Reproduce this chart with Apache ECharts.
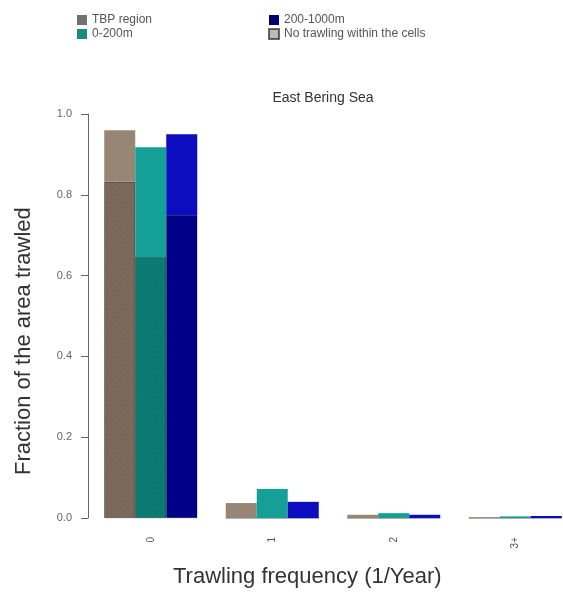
<!DOCTYPE html>
<html>
<head>
<meta charset="utf-8">
<script src="https://cdn.jsdelivr.net/npm/echarts@6/dist/echarts.min.js"></script>
<style>
  html, body { margin: 0; padding: 0; background: #fff; }
  #chart { width: 563px; height: 592px; }
</style>
</head>
<body>
<div id="chart"></div>
<script>
// Trawling frequency classes (x axis)
const categories = ['0', '1', '2', '3+'];
const yTicks = [0, 0.2, 0.4, 0.6, 0.8, 1.0];

// Fraction of area per frequency class; the "noTrawl" part is the share of
// cells with no trawling inside them (only present in class 0)
const tbpNoTrawl   = [0.832, 0, 0, 0];
const tbpRest      = [0.128, 0.037, 0.008, 0.002];
const shelfNoTrawl = [0.646, 0, 0, 0];
const shelfRest    = [0.272, 0.072, 0.012, 0.004];
const slopeNoTrawl = [0.750, 0, 0, 0];
const slopeRest    = [0.200, 0.040, 0.008, 0.005];

const FONT = 'Liberation Sans, Arial, sans-serif';
const hatch = {
  symbol: 'rect',
  symbolSize: 0.6,
  dashArrayX: [2, 2],
  dashArrayY: [2, 2],
  rotation: Math.PI / 4,
  color: 'rgba(0,0,0,0.16)'
};

function lowerSeries(stack, data, color) {
  return {
    name: 'No trawling within the cells',
    type: 'bar', stack: stack, data: data,
    barWidth: 31, barGap: '0%',
    itemStyle: { color: color, decal: hatch, borderColor: 'rgba(0,0,0,0.35)', borderWidth: 0.5 },
    emphasis: { disabled: true }
  };
}
function upperSeries(name, stack, data, color) {
  return {
    name: name,
    type: 'bar', stack: stack, data: data,
    barWidth: 31, barGap: '0%',
    itemStyle: { color: color },
    emphasis: { disabled: true }
  };
}

const chart = echarts.init(document.getElementById('chart'), null, { renderer: 'canvas' });
const legendText = { fontFamily: FONT, fontSize: 12, color: '#555' };
chart.setOption({
  animation: false,
  backgroundColor: '#fff',
  title: {
    text: 'East Bering Sea',
    left: 318, top: 86, textAlign: 'center',
    textStyle: { fontFamily: FONT, fontSize: 14, fontWeight: 'normal', color: '#333' }
  },
  legend: [
    {
      orient: 'vertical', left: 72, top: 9, itemWidth: 10, itemHeight: 10, itemGap: 2,
      icon: 'rect', selectedMode: false, textStyle: legendText,
      data: [
        { name: 'TBP region', itemStyle: { color: '#707070' } },
        { name: '0-200m', itemStyle: { color: '#1a8a80' } }
      ]
    },
    {
      orient: 'vertical', left: 263, top: 9, itemWidth: 10, itemHeight: 10, itemGap: 2,
      icon: 'rect', selectedMode: false, textStyle: legendText,
      data: [
        { name: '200-1000m', itemStyle: { color: '#00006e' } },
        { name: 'No trawling within the cells', itemStyle: { color: '#bdbdbd', decal: hatch } }
      ]
    }
  ],
  grid: { left: 90, width: 486, top: 114, bottom: 74, outerBoundsMode: 'none', containLabel: false },
  xAxis: {
    type: 'category',
    data: categories,
    axisLine: { show: false },
    axisTick: { show: false },
    axisLabel: { rotate: 90, margin: 19, fontFamily: FONT, fontSize: 10, color: '#555' }
  },
  yAxis: {
    type: 'value',
    min: 0, max: 1, interval: 0.2,
    offset: 2,
    axisLine: { show: true, lineStyle: { color: '#666', width: 1 } },
    axisTick: { show: true, length: 7, lineStyle: { color: '#666' } },
    splitLine: { show: false },
    axisLabel: {
      margin: 16, fontFamily: FONT, fontSize: 11, color: '#666',
      formatter: v => (yTicks.some(t => Math.abs(t - v) < 1e-9) ? v.toFixed(1) : '')
    }
  },
  graphic: [
    {
      type: 'text', left: 173, top: 566,
      style: { text: 'Trawling frequency (1/Year)', font: '22px ' + FONT, fill: '#333' }
    },
    {
      type: 'text', x: 13, y: 475, rotation: Math.PI / 2,
      style: { text: 'Fraction of the area trawled', font: '22px ' + FONT, fill: '#333' }
    }
  ],
  series: [
    lowerSeries('tbp', tbpNoTrawl, '#7b6a5c'),
    upperSeries('TBP region', 'tbp', tbpRest, '#988675'),
    lowerSeries('shelf', shelfNoTrawl, '#0b7b73'),
    upperSeries('0-200m', 'shelf', shelfRest, '#14a097'),
    lowerSeries('slope', slopeNoTrawl, '#00008a'),
    upperSeries('200-1000m', 'slope', slopeRest, '#0d0dc0')
  ]
});
</script>
</body>
</html>
